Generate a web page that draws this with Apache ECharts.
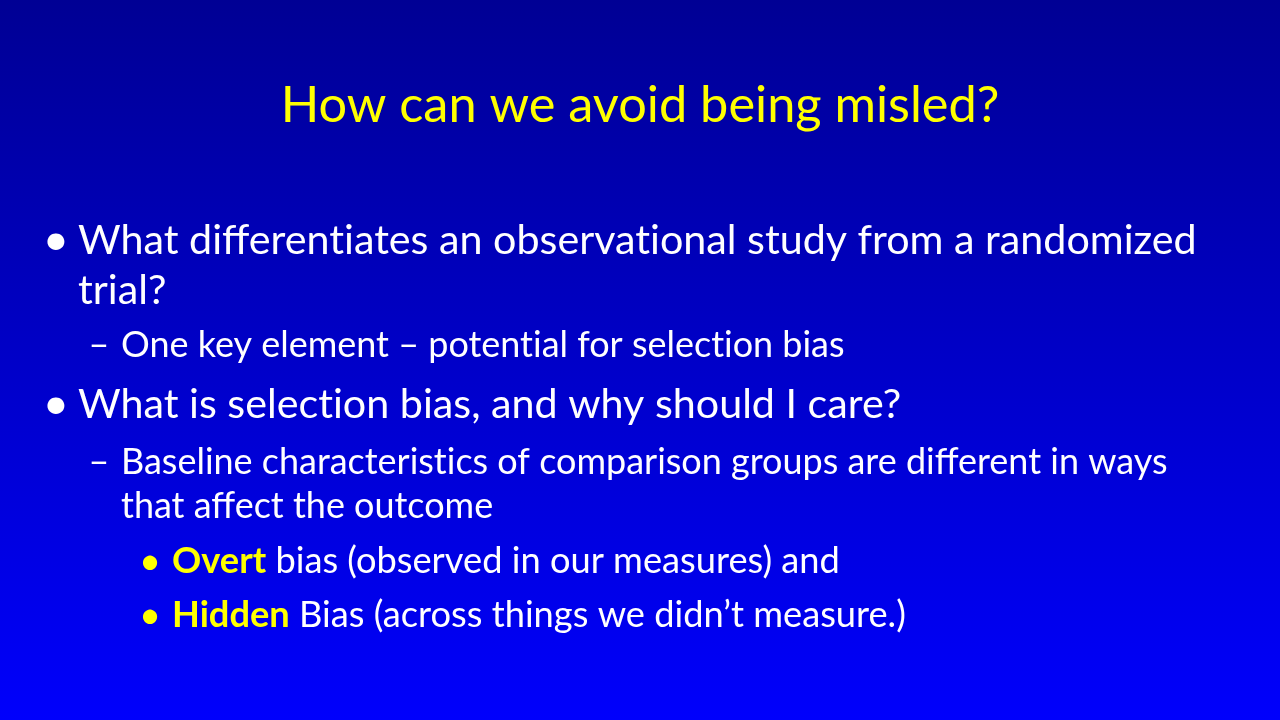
<!DOCTYPE html>
<html>
<head>
<meta charset="utf-8">
<title>How can we avoid being misled?</title>
<script src="https://cdn.jsdelivr.net/npm/echarts@6.0.0/dist/echarts.min.js"></script>
<style>
  html, body { margin: 0; padding: 0; background: #0000c0; }
  #slide { width: 1280px; height: 720px; }
</style>
</head>
<body>
<div id="slide"></div>
<script>
// slide content
var slideTitle = 'How can we avoid being misled?';
var lineTexts = [
    'What differentiates an observational study from a randomized',
    'trial?',
    'One key element – potential for selection bias',
    'What is selection bias, and why should I care?',
    'Baseline characteristics of comparison groups are different in ways',
    'that affect the outcome',
    ' bias (observed in our measures) and',
    ' Bias (across things we didn’t measure.)'
];
var lineLevels = [1, 1, 2, 1, 2, 2, 3, 3];
var lineHasMarker = [true, false, true, true, true, false, true, true];
var lineLeadWords = ['', '', '', '', '', '', 'Overt', 'Hidden'];

// layout
var FONT = 'Lato';
var WHITE = '#ffffff', YELLOW = '#ffff00';
var titleBaseline = 122, titleWidth = 719;
var baselines = [254, 304, 357, 418, 474, 518, 573, 627];
var textX = {1: 78, 2: 121, 3: 172};
var markerX = {1: 56, 2: 99, 3: 150};
var markerChar = {1: '•', 2: '–', 3: '•'};
var markerScale = {1: 1.1, 2: 1, 3: 1.05};
var markerColor = {1: WHITE, 2: WHITE, 3: YELLOW};

// Lato joins "ti" into a ligature, the slide font does not
function noLig(str) {
    return str.replace(/t(?=i)/g, 't\u200C');
}

var ctx = document.createElement('canvas').getContext('2d');
function textW(str, size, weight) {
    ctx.font = (weight || 'normal') + ' ' + size + 'px ' + FONT;
    return ctx.measureText(noLig(str)).width;
}
// font size so that a line is as wide as in the slide
function fitSize(parts, target) {
    var w = 0;
    parts.forEach(function (p) { w += textW(p[0], 100, p[1]); });
    return 100 * target / w;
}
var titleSize = fitSize([[slideTitle]], titleWidth);
var levelSize = {
    1: fitSize([[lineTexts[0]]], 1119),
    2: fitSize([[lineTexts[4]]], 1047),
    3: fitSize([[lineLeadWords[7], 'bold'], [lineTexts[7]]], 734)
};

// canvas 'middle' sits about 0.32em above the baseline for Lato
function midY(baseline, size) {
    return baseline - 0.32 * size;
}

function textEl(str, x, y, size, color, weight, align) {
    return {
        type: 'text',
        x: x,
        y: y,
        style: {
            text: noLig(str),
            fill: color,
            font: (weight || 'normal') + ' ' + size + 'px ' + FONT,
            textAlign: align || 'left',
            textVerticalAlign: 'middle',
            verticalAlign: 'middle'
        }
    };
}

var elements = [];
elements.push({
    type: 'rect',
    z: -10,
    shape: {x: 0, y: 0, width: 1280, height: 720},
    style: {
        fill: new echarts.graphic.LinearGradient(0, 0, 0, 1, [
            {offset: 0, color: '#000094'},
            {offset: 1, color: '#0000fc'}
        ])
    }
});
elements.push(textEl(slideTitle, 640, midY(titleBaseline, titleSize), titleSize, YELLOW, 'normal', 'center'));

lineTexts.forEach(function (txt, i) {
    var lv = lineLevels[i];
    var size = levelSize[lv];
    var y = midY(baselines[i], size);
    if (lineHasMarker[i]) {
        elements.push(textEl(markerChar[lv], markerX[lv], y, size * markerScale[lv], markerColor[lv], 'normal', 'center'));
    }
    var x = textX[lv];
    if (lineLeadWords[i]) {
        elements.push(textEl(lineLeadWords[i], x, y, size, YELLOW, 'bold'));
        x += textW(lineLeadWords[i], size, 'bold');
    }
    elements.push(textEl(txt, x, y, size, WHITE));
});

var chart = echarts.init(document.getElementById('slide'), null, {renderer: 'canvas'});
chart.setOption({
    animation: false,
    backgroundColor: '#0000c0',
    graphic: {elements: elements}
});
</script>
</body>
</html>
